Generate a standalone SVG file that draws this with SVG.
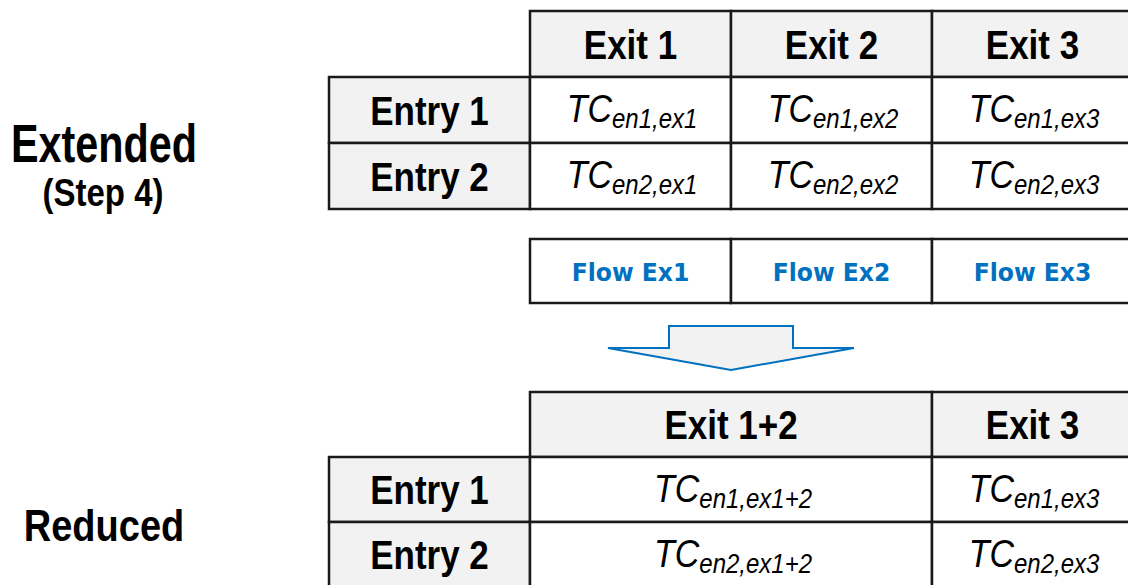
<svg xmlns="http://www.w3.org/2000/svg" width="1128" height="585" viewBox="0 0 1128 585">
<style>
.hdr{fill:#f2f2f2;stroke:#1a1a1a;stroke-width:2.5}
.cell{fill:#ffffff;stroke:#1a1a1a;stroke-width:2.5}
.lbl{font-family:"Liberation Sans",Arial,sans-serif;font-weight:bold;font-size:35px;fill:#000;text-anchor:middle}
.tc{font-family:"Liberation Sans",Arial,sans-serif;font-style:italic;font-size:34px;fill:#000;text-anchor:middle}
.sub{font-size:24px}
.flow{font-family:"DejaVu Sans",Verdana,sans-serif;font-weight:bold;font-size:23.5px;fill:#0070C0;text-anchor:middle}
.side{font-family:"Liberation Sans",Arial,sans-serif;font-weight:bold;fill:#000;text-anchor:middle}
</style>
<rect width="1128" height="585" fill="#ffffff"/>

<g id="label-extended">
<text class="side" font-size="47" transform="translate(104,162) scale(0.88,1.13)">Extended</text>
<text class="side" font-size="33" transform="translate(103,206) scale(1,1.15)">(Step 4)</text>
</g>
<g id="label-reduced">
<text class="side" font-size="38" transform="translate(104,541) scale(1,1.15)">Reduced</text>
</g>

<!-- Extended table -->
<g id="ext-h-exit1"><rect class="hdr" x="530" y="11" width="201" height="66"/><text class="lbl" transform="translate(630.5,58.5) scale(1,1.15)">Exit 1</text></g>
<g id="ext-h-exit2"><rect class="hdr" x="731" y="11" width="201" height="66"/><text class="lbl" transform="translate(831.5,58.5) scale(1,1.15)">Exit 2</text></g>
<g id="ext-h-exit3"><rect class="hdr" x="932" y="11" width="201" height="66"/><text class="lbl" transform="translate(1032.5,58.5) scale(1,1.15)">Exit 3</text></g>
<g id="ext-entry1"><rect class="hdr" x="329" y="77" width="201" height="66"/><text class="lbl" transform="translate(429.5,124.5) scale(1,1.15)">Entry 1</text></g>
<g id="ext-entry2"><rect class="hdr" x="329" y="143" width="201" height="66"/><text class="lbl" transform="translate(429.5,190.5) scale(1,1.15)">Entry 2</text></g>
<g id="ext-c11"><rect class="cell" x="530" y="77" width="201" height="66"/><text class="tc" transform="translate(632,122) scale(1,1.13)">TC<tspan class="sub" dy="5">en1,ex1</tspan></text></g>
<g id="ext-c12"><rect class="cell" x="731" y="77" width="201" height="66"/><text class="tc" transform="translate(833,122) scale(1,1.13)">TC<tspan class="sub" dy="5">en1,ex2</tspan></text></g>
<g id="ext-c13"><rect class="cell" x="932" y="77" width="201" height="66"/><text class="tc" transform="translate(1034,122) scale(1,1.13)">TC<tspan class="sub" dy="5">en1,ex3</tspan></text></g>
<g id="ext-c21"><rect class="cell" x="530" y="143" width="201" height="66"/><text class="tc" transform="translate(632,188) scale(1,1.13)">TC<tspan class="sub" dy="5">en2,ex1</tspan></text></g>
<g id="ext-c22"><rect class="cell" x="731" y="143" width="201" height="66"/><text class="tc" transform="translate(833,188) scale(1,1.13)">TC<tspan class="sub" dy="5">en2,ex2</tspan></text></g>
<g id="ext-c23"><rect class="cell" x="932" y="143" width="201" height="66"/><text class="tc" transform="translate(1034,188) scale(1,1.13)">TC<tspan class="sub" dy="5">en2,ex3</tspan></text></g>

<!-- Flow row -->
<g id="flow-ex1"><rect class="cell" x="530" y="239" width="201" height="64"/><text class="flow" transform="translate(630.5,281) scale(1,1.05)">Flow Ex1</text></g>
<g id="flow-ex2"><rect class="cell" x="731" y="239" width="201" height="64"/><text class="flow" transform="translate(831.5,281) scale(1,1.05)">Flow Ex2</text></g>
<g id="flow-ex3"><rect class="cell" x="932" y="239" width="201" height="64"/><text class="flow" transform="translate(1032.5,281) scale(1,1.05)">Flow Ex3</text></g>

<!-- Connectors -->
<g id="connectors">
<polygon points="669,326 793,326 793,348 854,348 731,370 608,348 669,348" fill="#f2f2f2" stroke="#0070C0" stroke-width="2" stroke-linejoin="miter"/>
</g>

<!-- Reduced table -->
<g id="red-h-exit12"><rect class="hdr" x="530" y="392" width="402" height="65"/><text class="lbl" transform="translate(731,439) scale(1,1.15)">Exit 1+2</text></g>
<g id="red-h-exit3"><rect class="hdr" x="932" y="392" width="201" height="65"/><text class="lbl" transform="translate(1032.5,439) scale(1,1.15)">Exit 3</text></g>
<g id="red-entry1"><rect class="hdr" x="329" y="457" width="201" height="65"/><text class="lbl" transform="translate(429.5,504) scale(1,1.15)">Entry 1</text></g>
<g id="red-entry2"><rect class="hdr" x="329" y="522" width="201" height="66"/><text class="lbl" transform="translate(429.5,569) scale(1,1.15)">Entry 2</text></g>
<g id="red-c11"><rect class="cell" x="530" y="457" width="402" height="65"/><text class="tc" transform="translate(733,502) scale(1,1.13)">TC<tspan class="sub" dy="5">en1,ex1+2</tspan></text></g>
<g id="red-c13"><rect class="cell" x="932" y="457" width="201" height="65"/><text class="tc" transform="translate(1034,502) scale(1,1.13)">TC<tspan class="sub" dy="5">en1,ex3</tspan></text></g>
<g id="red-c21"><rect class="cell" x="530" y="522" width="402" height="66"/><text class="tc" transform="translate(733,567) scale(1,1.13)">TC<tspan class="sub" dy="5">en2,ex1+2</tspan></text></g>
<g id="red-c23"><rect class="cell" x="932" y="522" width="201" height="66"/><text class="tc" transform="translate(1034,567) scale(1,1.13)">TC<tspan class="sub" dy="5">en2,ex3</tspan></text></g>
</svg>
